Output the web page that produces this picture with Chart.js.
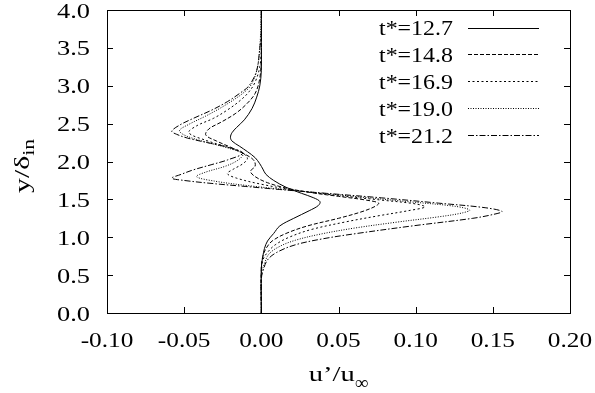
<!DOCTYPE html>
<html>
<head>
<meta charset="utf-8">
<script src="https://cdn.jsdelivr.net/npm/chart.js@4/dist/chart.umd.min.js"></script>
<style>
  html, body { margin: 0; padding: 0; background: #fff; }
  #wrap { width: 595px; height: 393px; }
</style>
</head>
<body>
<div id="wrap"><canvas id="chart"></canvas></div>
<script>
// series names
const seriesNames = ["t*=12.7", "t*=14.8", "t*=16.9", "t*=19.0", "t*=21.2"];

// y/delta_in positions and u'/u_inf values
const y127 = [0, 0.6, 0.75, 0.85, 0.95, 1.05, 1.15, 1.25, 1.35, 1.42, 1.47, 1.52, 1.58, 1.66, 1.75, 1.83, 1.90, 1.97, 2.05, 2.13, 2.2, 2.27, 2.32, 2.38, 2.45, 2.55, 2.7, 2.85, 3.0, 3.2, 3.5, 4.0];
const u127 = [0, 0, 0.001, 0.002, 0.004, 0.008, 0.012, 0.021, 0.031, 0.037, 0.038, 0.034, 0.026, 0.016, 0.008, 0.003, 0.001, -0.001, -0.004, -0.009, -0.014, -0.019, -0.020, -0.019, -0.016, -0.011, -0.006, -0.003, -0.001, 0, 0, 0];

const y148 = [0, 0.6, 0.75, 0.85, 0.95, 1.05, 1.15, 1.25, 1.33, 1.40, 1.45, 1.49, 1.54, 1.59, 1.65, 1.72, 1.80, 1.87, 1.94, 2.02, 2.10, 2.18, 2.27, 2.35, 2.43, 2.52, 2.63, 2.75, 2.9, 3.1, 3.4, 4.0];
const u148 = [0, 0, 0.001, 0.003, 0.007, 0.016, 0.030, 0.050, 0.064, 0.073, 0.076, 0.068, 0.050, 0.032, 0.016, 0.004, -0.004, -0.007, -0.004, -0.005, -0.011, -0.019, -0.029, -0.036, -0.034, -0.026, -0.017, -0.010, -0.004, -0.001, 0, 0];

const y169 = [0, 0.55, 0.7, 0.8, 0.9, 1.0, 1.1, 1.2, 1.28, 1.35, 1.40, 1.44, 1.49, 1.55, 1.62, 1.70, 1.78, 1.84, 1.90, 1.97, 2.04, 2.11, 2.19, 2.28, 2.38, 2.47, 2.57, 2.68, 2.8, 2.92, 3.05, 3.25, 3.5, 4.0];
const u169 = [0, 0, 0.001, 0.004, 0.009, 0.018, 0.032, 0.054, 0.075, 0.095, 0.106, 0.100, 0.078, 0.050, 0.022, 0.000, -0.016, -0.022, -0.018, -0.012, -0.009, -0.012, -0.022, -0.036, -0.047, -0.042, -0.031, -0.022, -0.014, -0.008, -0.004, -0.001, 0, 0];

const y190 = [0, 0.5, 0.65, 0.78, 0.88, 0.96, 1.04, 1.12, 1.2, 1.27, 1.32, 1.36, 1.41, 1.47, 1.54, 1.61, 1.68, 1.74, 1.80, 1.86, 1.94, 2.02, 2.10, 2.18, 2.28, 2.35, 2.41, 2.49, 2.6, 2.7, 2.8, 2.9, 3.0, 3.2, 3.5, 4.0];
const u190 = [0, 0, 0.002, 0.005, 0.012, 0.022, 0.038, 0.060, 0.088, 0.115, 0.130, 0.135, 0.125, 0.095, 0.060, 0.025, -0.008, -0.030, -0.042, -0.036, -0.023, -0.015, -0.012, -0.022, -0.040, -0.050, -0.053, -0.047, -0.036, -0.027, -0.019, -0.012, -0.007, -0.003, -0.001, 0];

const y212 = [0, 0.45, 0.55, 0.7, 0.8, 0.9, 0.98, 1.05, 1.15, 1.25, 1.30, 1.34, 1.39, 1.45, 1.52, 1.58, 1.63, 1.67, 1.71, 1.75, 1.78, 1.83, 1.89, 1.96, 2.02, 2.11, 2.18, 2.24, 2.31, 2.36, 2.40, 2.48, 2.57, 2.68, 2.79, 2.9, 3.0, 3.2, 3.5, 3.7, 4.0];
const u212 = [0, 0, 0.001, 0.004, 0.010, 0.022, 0.040, 0.062, 0.098, 0.137, 0.150, 0.156, 0.145, 0.115, 0.078, 0.042, 0.012, -0.010, -0.032, -0.050, -0.058, -0.052, -0.044, -0.032, -0.022, -0.012, -0.020, -0.033, -0.048, -0.055, -0.058, -0.053, -0.044, -0.032, -0.022, -0.014, -0.008, -0.003, -0.001, 0, 0];

// axis ticks
const xTicks = [-0.10, -0.05, 0.00, 0.05, 0.10, 0.15, 0.20];
const yTicks = [0.0, 0.5, 1.0, 1.5, 2.0, 2.5, 3.0, 3.5, 4.0];

const dashes = [[], [4, 2], [2, 2.5], [1, 1.5], [6, 2, 1.5, 2]];
const ys = [y127, y148, y169, y190, y212];
const us = [u127, u148, u169, u190, u212];

const FONT = '"Liberation Serif", "Times New Roman", serif';

function drawText(ctx, s, x, y, size, align, sx) {
  ctx.save();
  ctx.font = size + "px " + FONT;
  ctx.textAlign = align;
  ctx.textBaseline = "alphabetic";
  ctx.translate(x, y);
  ctx.scale(sx, 1);
  ctx.fillText(s, 0, 0);
  ctx.restore();
}

const gnuplotLook = {
  id: "gnuplotLook",
  afterDraw(chart) {
    const ctx = chart.ctx;
    const a = chart.chartArea;
    const xs = chart.scales.x, yscale = chart.scales.y;
    ctx.save();
    ctx.fillStyle = "#000";
    ctx.strokeStyle = "#000";
    ctx.lineWidth = 1;
    ctx.setLineDash([]);

    // frame
    ctx.strokeRect(Math.round(a.left) + 0.5, Math.round(a.top) + 0.5,
      Math.round(a.right - a.left), Math.round(a.bottom - a.top));

    // inward ticks
    const tl = 6;
    ctx.beginPath();
    xTicks.forEach(v => {
      const px = Math.round(xs.getPixelForValue(v)) + 0.5;
      ctx.moveTo(px, a.bottom); ctx.lineTo(px, a.bottom - tl);
      ctx.moveTo(px, a.top); ctx.lineTo(px, a.top + tl);
    });
    yTicks.forEach(v => {
      const py = Math.round(yscale.getPixelForValue(v)) + 0.5;
      ctx.moveTo(a.left, py); ctx.lineTo(a.left + tl, py);
      ctx.moveTo(a.right, py); ctx.lineTo(a.right - tl, py);
    });
    ctx.stroke();

    // tick labels
    xTicks.forEach(v => {
      drawText(ctx, v.toFixed(2), xs.getPixelForValue(v), 346.5, 22, "center", 1.15);
    });
    yTicks.forEach(v => {
      drawText(ctx, v.toFixed(1), 90, yscale.getPixelForValue(v) + 7.5, 22, "right", 1.2);
    });

    // x title u'/u_inf
    ctx.font = "22px " + FONT;
    const main = "u\u2019/u";
    const w1 = ctx.measureText(main).width * 1.3;
    ctx.font = "19px " + FONT;
    const w2 = ctx.measureText("\u221e").width;
    const cx = (a.left + a.right) / 2;
    const x0 = cx - (w1 + w2) / 2;
    drawText(ctx, main, x0, 381, 22, "left", 1.3);
    drawText(ctx, "\u221e", x0 + w1, 389, 19, "left", 1);

    // y title y/delta_in (rotated)
    ctx.save();
    ctx.translate(29, 166);
    ctx.rotate(-Math.PI / 2);
    ctx.font = "22px " + FONT;
    const ym = "y/\u03b4";
    const s1 = 1.35;
    const wy1 = ctx.measureText(ym).width * s1;
    ctx.font = "16px " + FONT;
    const wy2 = ctx.measureText("in").width * s1;
    const y0 = -(wy1 + wy2) / 2;
    drawText(ctx, ym, y0, 0, 22, "left", s1);
    drawText(ctx, "in", y0 + wy1, 5, 16, "left", s1);
    ctx.restore();

    // legend
    seriesNames.forEach((name, i) => {
      const cy = 27.5 + i * 26.9;
      drawText(ctx, name, 453, cy + 7.5, 21, "right", 1.14);
      ctx.beginPath();
      ctx.setLineDash(dashes[i]);
      ctx.lineWidth = 1;
      ctx.moveTo(468, Math.round(cy) + 0.5);
      ctx.lineTo(539, Math.round(cy) + 0.5);
      ctx.stroke();
    });
    ctx.restore();
  }
};

const datasets = seriesNames.map((name, i) => ({
  label: name,
  data: ys[i].map((y, k) => ({ x: us[i][k], y: y })),
  showLine: true,
  borderColor: "#000",
  borderWidth: 1,
  borderDash: dashes[i],
  pointRadius: 0,
  tension: 0.35,
  fill: false
}));

new Chart(document.getElementById("chart"), {
  type: "scatter",
  data: { datasets },
  options: {
    responsive: true,
    maintainAspectRatio: false,
    animation: false,
    events: [],
    layout: { padding: { top: 10, right: 25, left: 0, bottom: 0 } },
    plugins: { legend: { display: false }, tooltip: { enabled: false } },
    scales: {
      x: {
        type: "linear", min: -0.10, max: 0.20,
        ticks: { display: false, stepSize: 0.05 },
        grid: { display: false },
        border: { display: false },
        afterFit(s) { s.height = 80; }
      },
      y: {
        type: "linear", min: 0, max: 4.0,
        ticks: { display: false, stepSize: 0.5 },
        grid: { display: false },
        border: { display: false },
        afterFit(s) { s.width = 107; }
      }
    }
  },
  plugins: [gnuplotLook]
});
</script>
</body>
</html>
